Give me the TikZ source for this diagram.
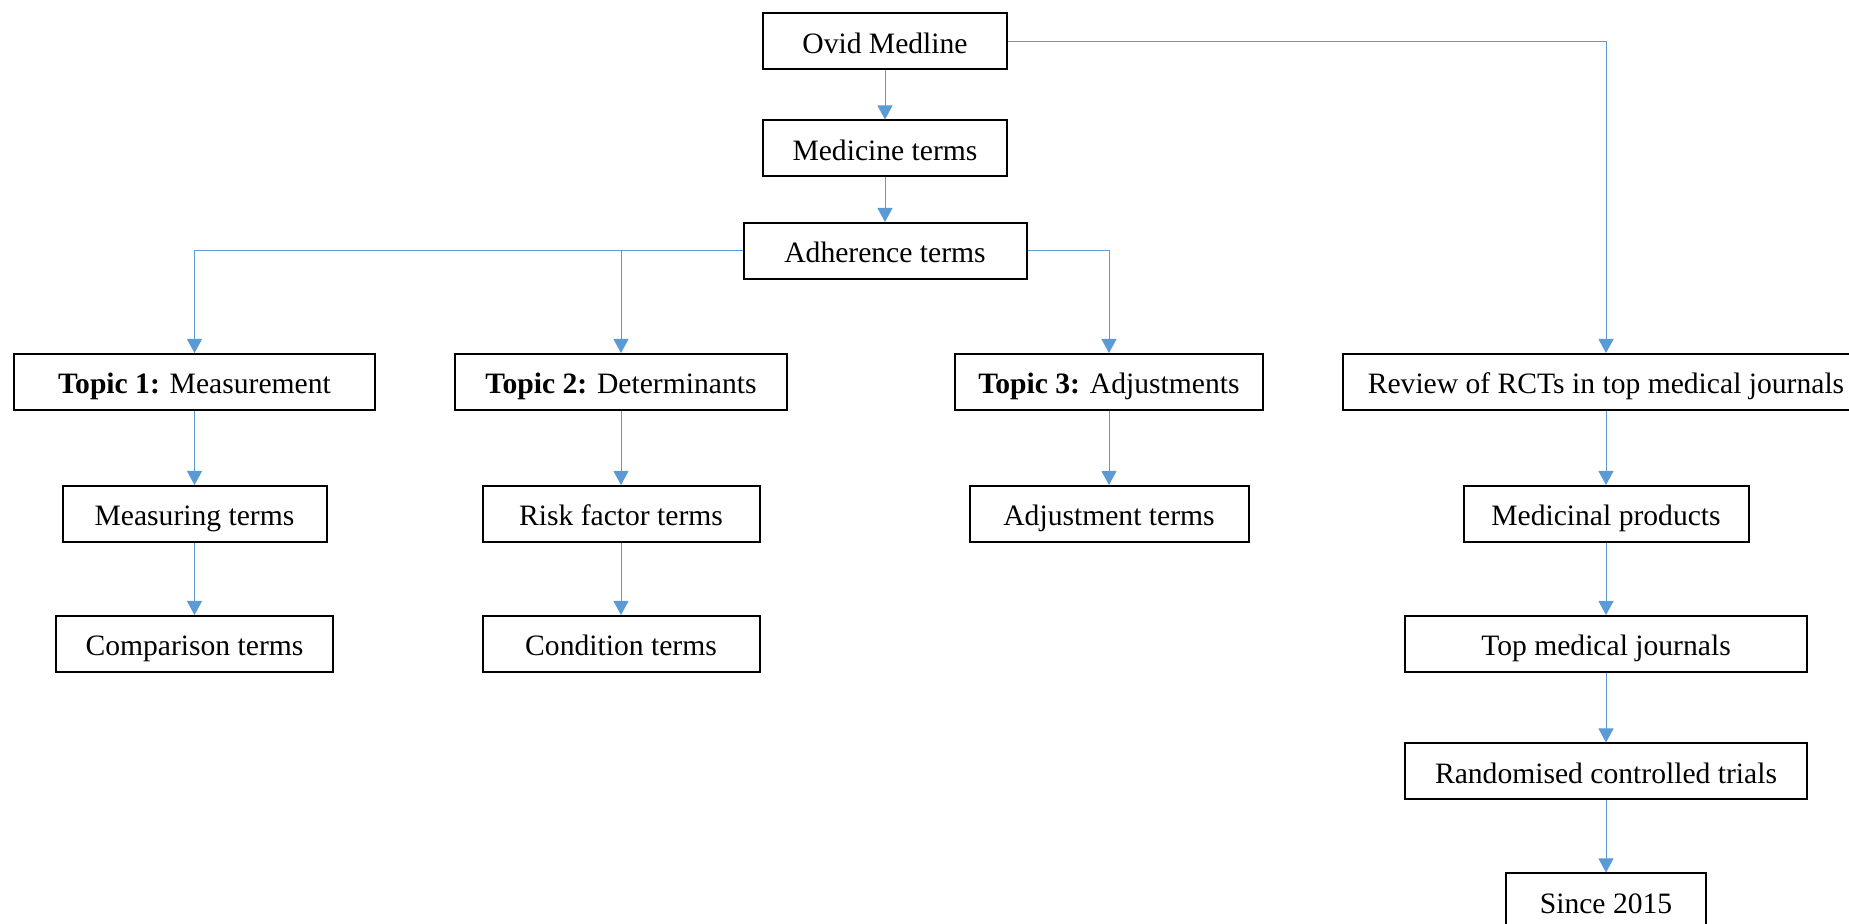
\documentclass[tikz,border=0pt]{standalone}
\usepackage{fontspec}
\setmainfont{Liberation Serif}
\usetikzlibrary{arrows.meta}
\definecolor{linkblue}{HTML}{5B9BD5}
\begin{document}
\begin{tikzpicture}[x=0.5pt,y=-0.5pt,
  box/.style={draw=black, line width=1pt, inner sep=0pt, minimum height=28pt,
    text height=12.5pt, text depth=0.5pt,
    font=\fontsize{14.8}{17}\selectfont},
  conn/.style={draw=linkblue, line width=0.5pt,
    -{Triangle[width=7.5pt,length=7pt]}, color=linkblue}]
\useasboundingbox (0,0) rectangle (1849,924);

% search chain
\node[box, minimum width=122pt] (ovid) at (885,41.5) {Ovid Medline};
\node[box, minimum width=122pt] (med)  at (885,148.5) {Medicine terms};
\node[box, minimum width=141.5pt] (adh) at (885,251) {Adherence terms};

% topics
\node[box, minimum width=180.5pt] (t1) at (194.5,382) {\textbf{Topic 1:} Measurement};
\node[box, minimum width=166pt] (t2) at (621,382) {\textbf{Topic 2:} Determinants};
\node[box, minimum width=154pt] (t3) at (1109,382) {\textbf{Topic 3:} Adjustments};
\node[box, minimum width=263pt] (rev) at (1606,382) {Review of RCTs in top medical journals};

% second level
\node[box, minimum width=132pt] (meas) at (194.5,514) {Measuring terms};
\node[box, minimum width=138.5pt] (risk) at (621,514) {Risk factor terms};
\node[box, minimum width=139.5pt] (adj) at (1109,514) {Adjustment terms};
\node[box, minimum width=142.5pt] (medp) at (1606,514) {Medicinal products};

% third level
\node[box, minimum width=138.5pt] (comp) at (194.5,644) {Comparison terms};
\node[box, minimum width=138.5pt] (cond) at (621,644) {Condition terms};
\node[box, minimum width=201pt] (top) at (1606,644) {Top medical journals};

% review chain
\node[box, minimum width=201pt] (rct) at (1606,771.5) {Randomised controlled trials};
\node[box, minimum width=100pt] (since) at (1606,901.5) {Since 2015};

% connectors
\draw[conn] (ovid) -- (med);
\draw[conn] (med) -- (adh);
\draw[conn] (ovid.east) -| (rev.north);
\draw[conn] (adh.west) -| (t1.north);
\draw[conn] (adh.west) -| (t2.north);
\draw[conn] (adh.east) -| (t3.north);
\draw[conn] (t1) -- (meas);
\draw[conn] (meas) -- (comp);
\draw[conn] (t2) -- (risk);
\draw[conn] (risk) -- (cond);
\draw[conn] (t3) -- (adj);
\draw[conn] (rev) -- (medp);
\draw[conn] (medp) -- (top);
\draw[conn] (top) -- (rct);
\draw[conn] (rct) -- (since);
\end{tikzpicture}
\end{document}
